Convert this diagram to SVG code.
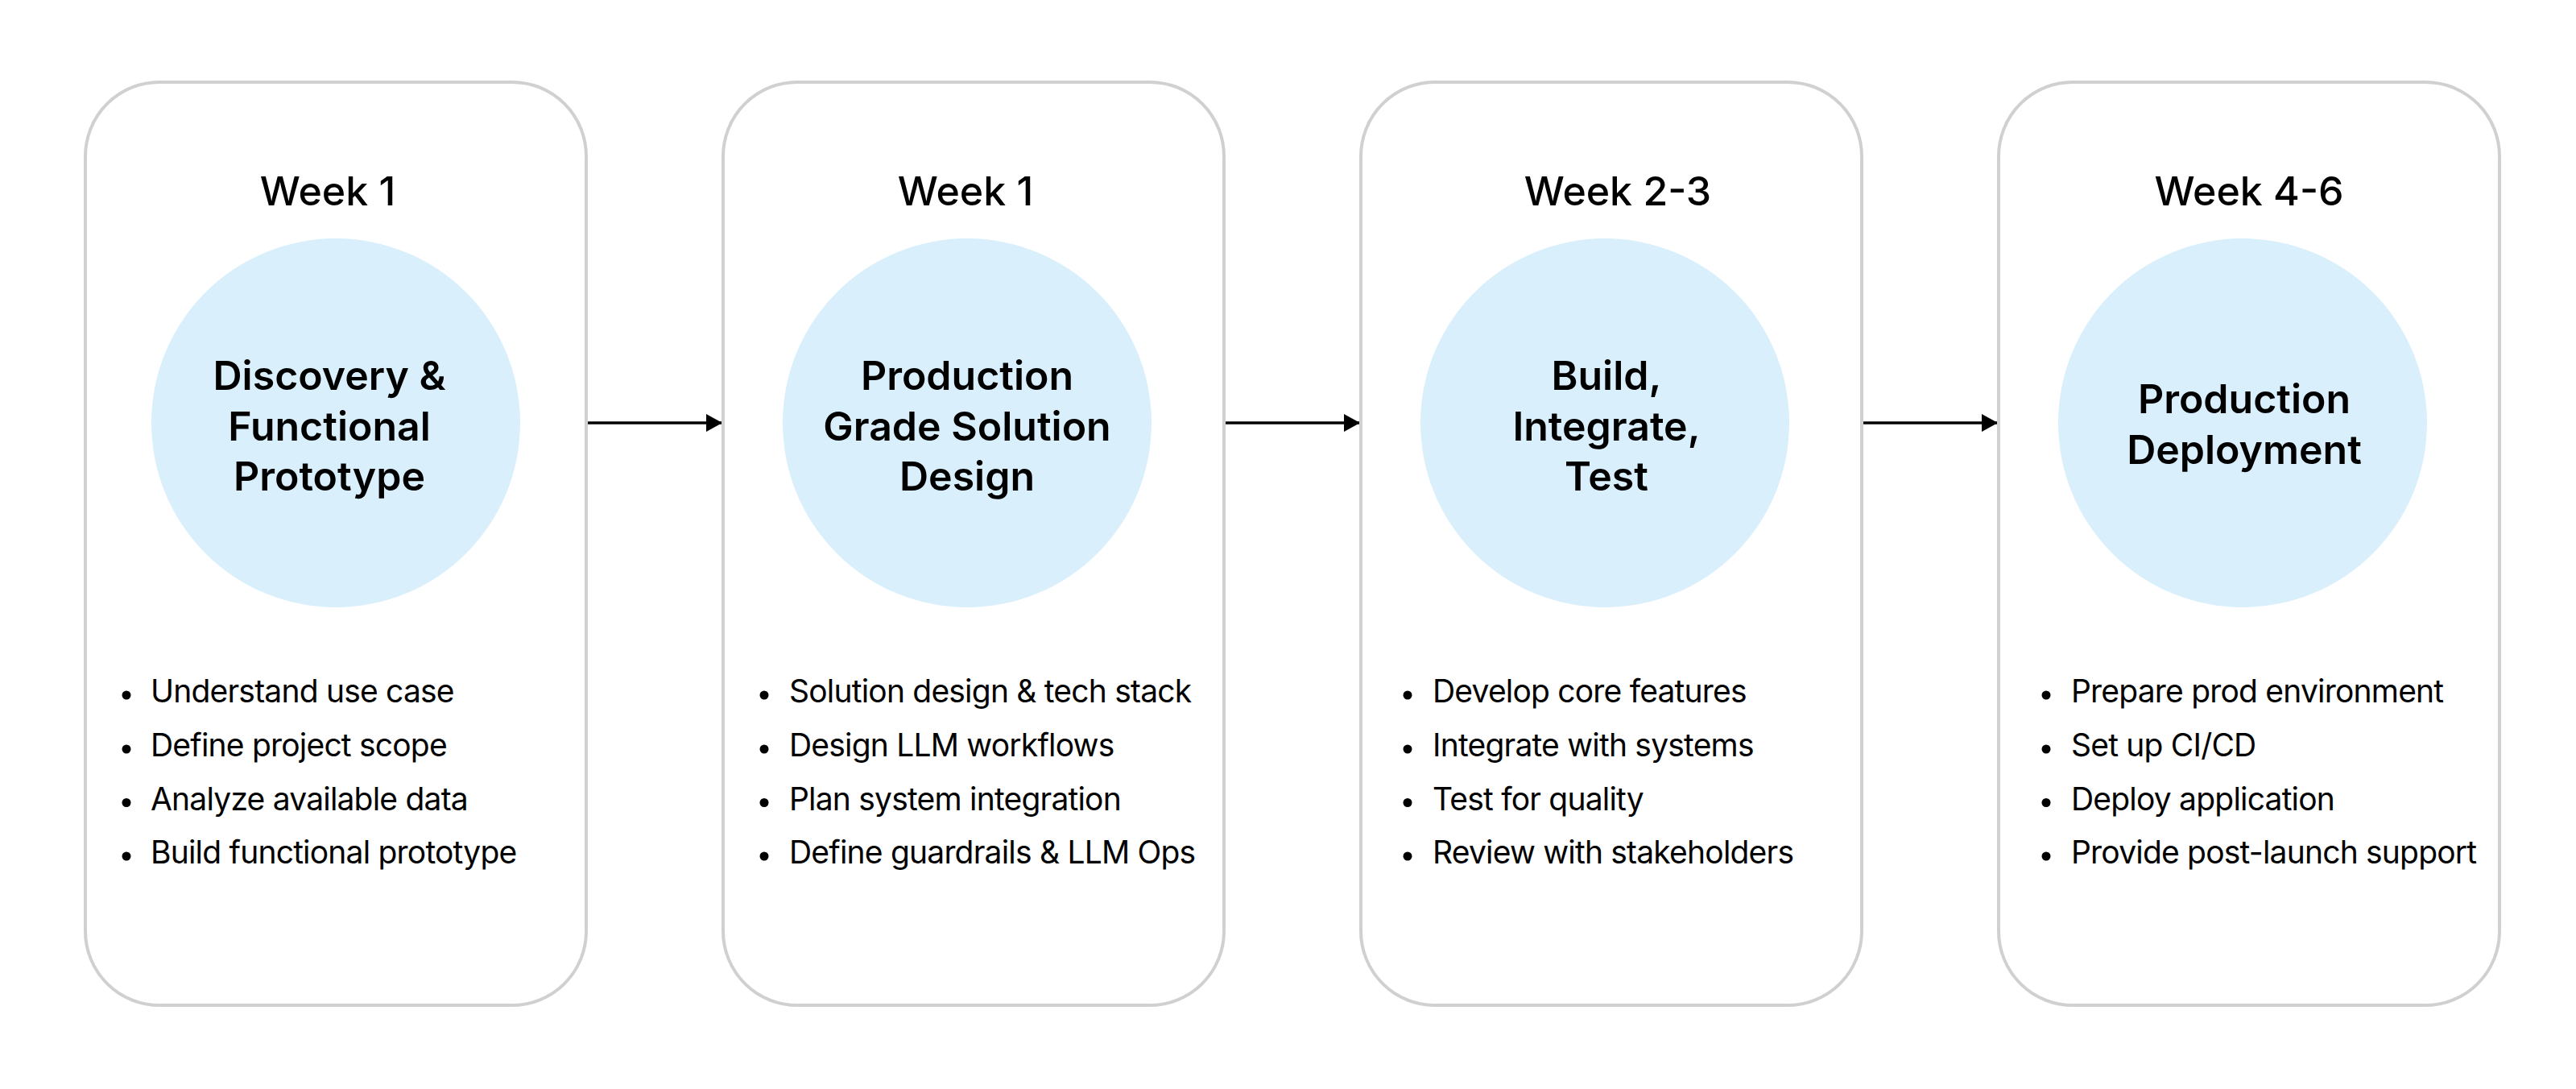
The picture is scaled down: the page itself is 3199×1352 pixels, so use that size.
<svg xmlns="http://www.w3.org/2000/svg" width="3199" height="1352" viewBox="0 0 3199 1352">
  <style>
    .card { fill: #ffffff; stroke: #d0d0d0; stroke-width: 4; }
    .bubble { fill: #d9effc; }
    .week { font-family: Inter, "Liberation Sans", sans-serif; font-size: 50px; font-weight: 500; fill: #000; text-anchor: middle; }
    .title { font-family: Inter, "Liberation Sans", sans-serif; font-size: 50px; font-weight: 600; fill: #000; text-anchor: middle; }
    .item { font-family: Inter, "Liberation Sans", sans-serif; font-size: 39px; font-weight: 400; letter-spacing: -0.8px; fill: #000; }
    .dot { fill: #000; }
    .conn { stroke: #000; stroke-width: 3.5; fill: none; marker-end: url(#arrow); }
  </style>
  <defs>
    <marker id="arrow" markerUnits="userSpaceOnUse" markerWidth="20" markerHeight="22" refX="20" refY="11" orient="auto">
      <path d="M0,0 L20,11 L0,22 Z" fill="#000"/>
    </marker>
  </defs>
  <rect width="3199" height="1352" fill="#ffffff"/>

  <g id="connectors">
    <line class="conn" x1="730" y1="525" x2="897" y2="525"/>
    <line class="conn" x1="1522" y1="525" x2="1689" y2="525"/>
    <line class="conn" x1="2314" y1="525" x2="2481" y2="525"/>
  </g>

  <g id="node-discovery">
    <rect class="card" x="106" y="102" width="622" height="1146" rx="92" ry="92"/>
    <text class="week" x="407" y="255">Week 1</text>
    <circle class="bubble" cx="417" cy="525" r="229"/>
    <text class="title" x="409" y="484">Discovery &amp;</text>
    <text class="title" x="409" y="546.5">Functional</text>
    <text class="title" x="409" y="609">Prototype</text>
    <circle class="dot" cx="157" cy="863" r="5.5"/>
    <text class="item" x="187" y="872">Understand use case</text>
    <circle class="dot" cx="157" cy="930" r="5.5"/>
    <text class="item" x="187" y="939">Define project scope</text>
    <circle class="dot" cx="157" cy="996.5" r="5.5"/>
    <text class="item" x="187" y="1005.5">Analyze available data</text>
    <circle class="dot" cx="157" cy="1063" r="5.5"/>
    <text class="item" x="187" y="1072">Build functional prototype</text>
  </g>

  <g id="node-design">
    <rect class="card" x="898" y="102" width="622" height="1146" rx="92" ry="92"/>
    <text class="week" x="1199" y="255">Week 1</text>
    <circle class="bubble" cx="1201" cy="525" r="229"/>
    <text class="title" x="1201" y="484">Production</text>
    <text class="title" x="1201" y="546.5">Grade Solution</text>
    <text class="title" x="1201" y="609">Design</text>
    <circle class="dot" cx="949" cy="863" r="5.5"/>
    <text class="item" x="980" y="872">Solution design &amp; tech stack</text>
    <circle class="dot" cx="949" cy="930" r="5.5"/>
    <text class="item" x="980" y="939">Design LLM workflows</text>
    <circle class="dot" cx="949" cy="996.5" r="5.5"/>
    <text class="item" x="980" y="1005.5">Plan system integration</text>
    <circle class="dot" cx="949" cy="1063" r="5.5"/>
    <text class="item" x="980" y="1072">Define guardrails &amp; LLM Ops</text>
  </g>

  <g id="node-build">
    <rect class="card" x="1690" y="102" width="622" height="1146" rx="92" ry="92"/>
    <text class="week" x="2009" y="255">Week 2-3</text>
    <circle class="bubble" cx="1993" cy="525" r="229"/>
    <text class="title" x="1995" y="484">Build,</text>
    <text class="title" x="1995" y="546.5">Integrate,</text>
    <text class="title" x="1995" y="609">Test</text>
    <circle class="dot" cx="1748" cy="863" r="5.5"/>
    <text class="item" x="1779" y="872">Develop core features</text>
    <circle class="dot" cx="1748" cy="930" r="5.5"/>
    <text class="item" x="1779" y="939">Integrate with systems</text>
    <circle class="dot" cx="1748" cy="996.5" r="5.5"/>
    <text class="item" x="1779" y="1005.5">Test for quality</text>
    <circle class="dot" cx="1748" cy="1063" r="5.5"/>
    <text class="item" x="1779" y="1072">Review with stakeholders</text>
  </g>

  <g id="node-deploy">
    <rect class="card" x="2482" y="102" width="622" height="1146" rx="92" ry="92"/>
    <text class="week" x="2793" y="255">Week 4-6</text>
    <circle class="bubble" cx="2785" cy="525" r="229"/>
    <text class="title" x="2787" y="513">Production</text>
    <text class="title" x="2787" y="576">Deployment</text>
    <circle class="dot" cx="2541" cy="863" r="5.5"/>
    <text class="item" x="2572" y="872">Prepare prod environment</text>
    <circle class="dot" cx="2541" cy="930" r="5.5"/>
    <text class="item" x="2572" y="939">Set up CI/CD</text>
    <circle class="dot" cx="2541" cy="996.5" r="5.5"/>
    <text class="item" x="2572" y="1005.5">Deploy application</text>
    <circle class="dot" cx="2541" cy="1063" r="5.5"/>
    <text class="item" x="2572" y="1072">Provide post-launch support</text>
  </g>
</svg>
